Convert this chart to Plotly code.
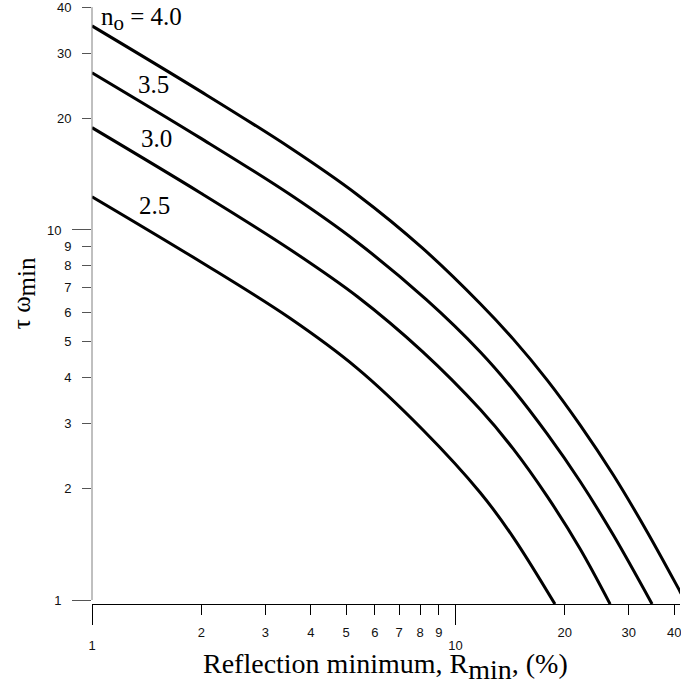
import math
import plotly.graph_objects as go

# Reflection minimum R_min (%) versus tau*omega_min for several background indices n_o
r_n25 = [1.0, 2.0, 3.5, 5.35, 8.12, 11.71, 14.43, 18.79]
t_n25 = [12.3, 8.18, 5.78, 4.24, 2.89, 1.95, 1.477, 0.975]

r_n30 = [1.0, 2.0, 3.5, 5.38, 8.12, 11.71, 14.43, 17.89, 22.05, 26.66]
t_n30 = [18.9, 12.55, 8.87, 6.60, 4.69, 3.27, 2.56, 1.905, 1.374, 0.975]

r_n35 = [1.0, 2.0, 3.5, 5.35, 8.32, 11.71, 14.43, 17.89, 22.05, 27.18, 34.77]
t_n35 = [26.6, 17.65, 12.48, 9.29, 6.48, 4.68, 3.70, 2.81, 2.09, 1.50, 0.975]

r_n40 = [1.0, 2.0, 3.5, 5.35, 8.12, 11.71, 14.43, 17.89, 22.05, 27.18, 33.69, 41.51, 43.96]
t_n40 = [35.6, 23.61, 16.70, 12.49, 8.93, 6.32, 5.07, 3.93, 2.97, 2.18, 1.53, 1.055, 0.95]

x_minor_ticks = [2, 3, 4, 5, 6, 7, 8, 9, 20, 30, 40]
x_major_ticks = [1, 10]
y_minor_ticks = [2, 3, 4, 5, 6, 7, 8, 9, 20, 30, 40]
y_major_ticks = [1, 10]

W, H = 681, 690
L, R, T, B = 92, 0, 5, 86
plot_w = W - L - R
plot_h = H - T - B

x_range = [0.0, 1.6181]
y_range = [-0.01077, 1.6025]

serif = "Liberation Serif, Times New Roman, serif"
sans = "Liberation Sans, Arial, sans-serif"


def paper(px, py):
    return (px - L) / plot_w, (H - B - py) / plot_h


fig = go.Figure()
for r, t in [(r_n25, t_n25), (r_n30, t_n30), (r_n35, t_n35), (r_n40, t_n40)]:
    fig.add_trace(go.Scatter(
        x=r, y=t, mode="lines",
        line=dict(color="black", width=3, shape="spline", smoothing=1.0),
        showlegend=False, hoverinfo="skip",
    ))
fig.add_trace(go.Scatter(x=[], y=[], xaxis="x2", yaxis="y2", showlegend=False))

tick_font = dict(family=sans, size=13, color="#111111")

fig.update_layout(
    width=W, height=H,
    margin=dict(l=L, r=R, t=T, b=B, pad=0),
    paper_bgcolor="white", plot_bgcolor="white",
    xaxis=dict(
        type="log", range=x_range, showgrid=False, zeroline=False,
        showline=True, linecolor="black", linewidth=1,
        ticks="outside", ticklen=10, tickwidth=1, tickcolor="black",
        tickvals=x_minor_ticks, ticktext=[str(v) for v in x_minor_ticks],
        tickfont=tick_font, ticklabelstandoff=6, ticklabeloverflow="allow",
    ),
    xaxis2=dict(
        type="log", range=x_range, overlaying="x", side="bottom",
        showgrid=False, zeroline=False, showline=False,
        ticks="outside", ticklen=20, tickwidth=1, tickcolor="black",
        tickvals=x_major_ticks, ticktext=[str(v) for v in x_major_ticks],
        tickfont=tick_font, ticklabelstandoff=9, ticklabeloverflow="allow",
    ),
    yaxis=dict(
        type="log", range=y_range, showgrid=False, zeroline=False,
        showline=False,
        ticks="outside", ticklen=9, tickwidth=1, tickcolor="#555555",
        tickvals=y_minor_ticks, ticktext=[str(v) for v in y_minor_ticks],
        tickfont=tick_font, ticklabelstandoff=8, ticklabeloverflow="allow",
    ),
    yaxis2=dict(
        type="log", range=y_range, overlaying="y", side="left",
        showgrid=False, zeroline=False, showline=False,
        ticks="outside", ticklen=19, tickwidth=1, tickcolor="#555555",
        tickvals=y_major_ticks, ticktext=[str(v) for v in y_major_ticks],
        tickfont=tick_font, ticklabelstandoff=8, ticklabeloverflow="allow",
    ),
)

# vertical axis line, running from 1 to 40
y_bottom = (0 - y_range[0]) / (y_range[1] - y_range[0])
y_top = (math.log10(40) - y_range[0]) / (y_range[1] - y_range[0])
fig.add_shape(type="line", xref="paper", yref="paper",
              x0=0, x1=0, y0=y_bottom, y1=y_top,
              line=dict(color="#808080", width=1))

label_font = dict(family=serif, size=25, color="black")
curve_labels = [
    ('n<sub><span style="font-size:21px">o</span></sub> = 4.0', 99, 17, "left"),
    ("3.5", 154, 83, "center"),
    ("3.0", 157, 137, "center"),
    ("2.5", 155, 204, "center"),
]
for text, px, py, anchor in curve_labels:
    xp, yp = paper(px, py)
    fig.add_annotation(text=text, x=xp, y=yp, xref="paper", yref="paper",
                       xanchor=anchor, yanchor="middle", showarrow=False,
                       font=label_font)

xp, yp = paper(386, 667)
fig.add_annotation(
    text='Reflection minimum, R<sub><span style="font-size:28px">min</span></sub>, (%)',
    x=xp, y=yp, xref="paper", yref="paper", xanchor="center", yanchor="middle",
    showarrow=False, font=dict(family=serif, size=28, color="black"))

xp, yp = paper(24, 292)
fig.add_annotation(
    text='τ ω<sub><span style="font-size:25px">min</span></sub>',
    x=xp, y=yp, xref="paper", yref="paper", xanchor="center", yanchor="middle",
    textangle=-90, showarrow=False, font=dict(family=serif, size=25, color="black"))

fig.write_html("out.html")
